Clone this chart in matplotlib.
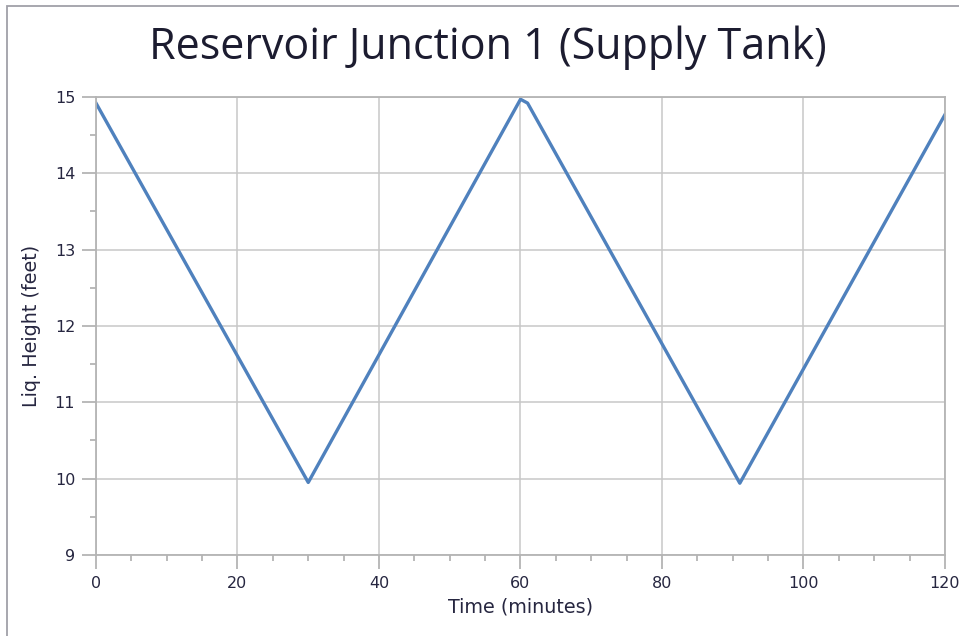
import matplotlib.pyplot as plt
from matplotlib.ticker import MultipleLocator
from matplotlib.patches import Rectangle

plt.rcParams['font.family'] = ['DejaVu Sans']

# dados
tempo = [0, 30, 60, 61, 91, 120]
altura = [14.92, 9.95, 14.97, 14.92, 9.94, 14.77]

x_ticks = [0, 20, 40, 60, 80, 100, 120]
y_ticks = [9, 10, 11, 12, 13, 14, 15]

fig = plt.figure(figsize=(9.59, 6.36), dpi=100)
ax = fig.add_axes([0.1001, 0.1274, 0.8853, 0.7201])

# borda da figura (so esquerda e topo aparecem)
fig.patches.append(Rectangle((7 / 959, -0.1), 1.2, 1 - 6 / 636 + 0.1,
                             transform=fig.transFigure, fill=False,
                             edgecolor='#a0a0a8', linewidth=1.3))

ax.plot(tempo, altura, color='#4f81bd', linewidth=2.4, solid_joinstyle='round')

ax.set_xlim(0, 120)
ax.set_ylim(9, 15)
ax.set_xticks(x_ticks)
ax.set_yticks(y_ticks)
ax.xaxis.set_minor_locator(MultipleLocator(5))
ax.yaxis.set_minor_locator(MultipleLocator(0.5))

ax.grid(True, which='major', color='#c8c8c8', linewidth=1.1)
for s in ax.spines.values():
    s.set_color('#b4b4b4')
    s.set_linewidth(1.3)

ax.tick_params(which='major', length=10, width=1.3, color='#b4b4b4',
               labelsize=11.5, labelcolor='#262640', pad=5)
ax.tick_params(which='minor', length=4, width=1.3, color='#b4b4b4')

ax.set_xlabel('Time (minutes)', fontsize=13.8, color='#262640', labelpad=5)
ax.set_ylabel('Liq. Height (feet)', fontsize=13.8, color='#262640', labelpad=10)

fig.text(0.509, 0.925, 'Reservoir Junction 1 (Supply Tank)', ha='center',
         va='center', fontsize=31, family='Open Sans', color='#1c1c30')

plt.savefig('out.png', dpi=100)
